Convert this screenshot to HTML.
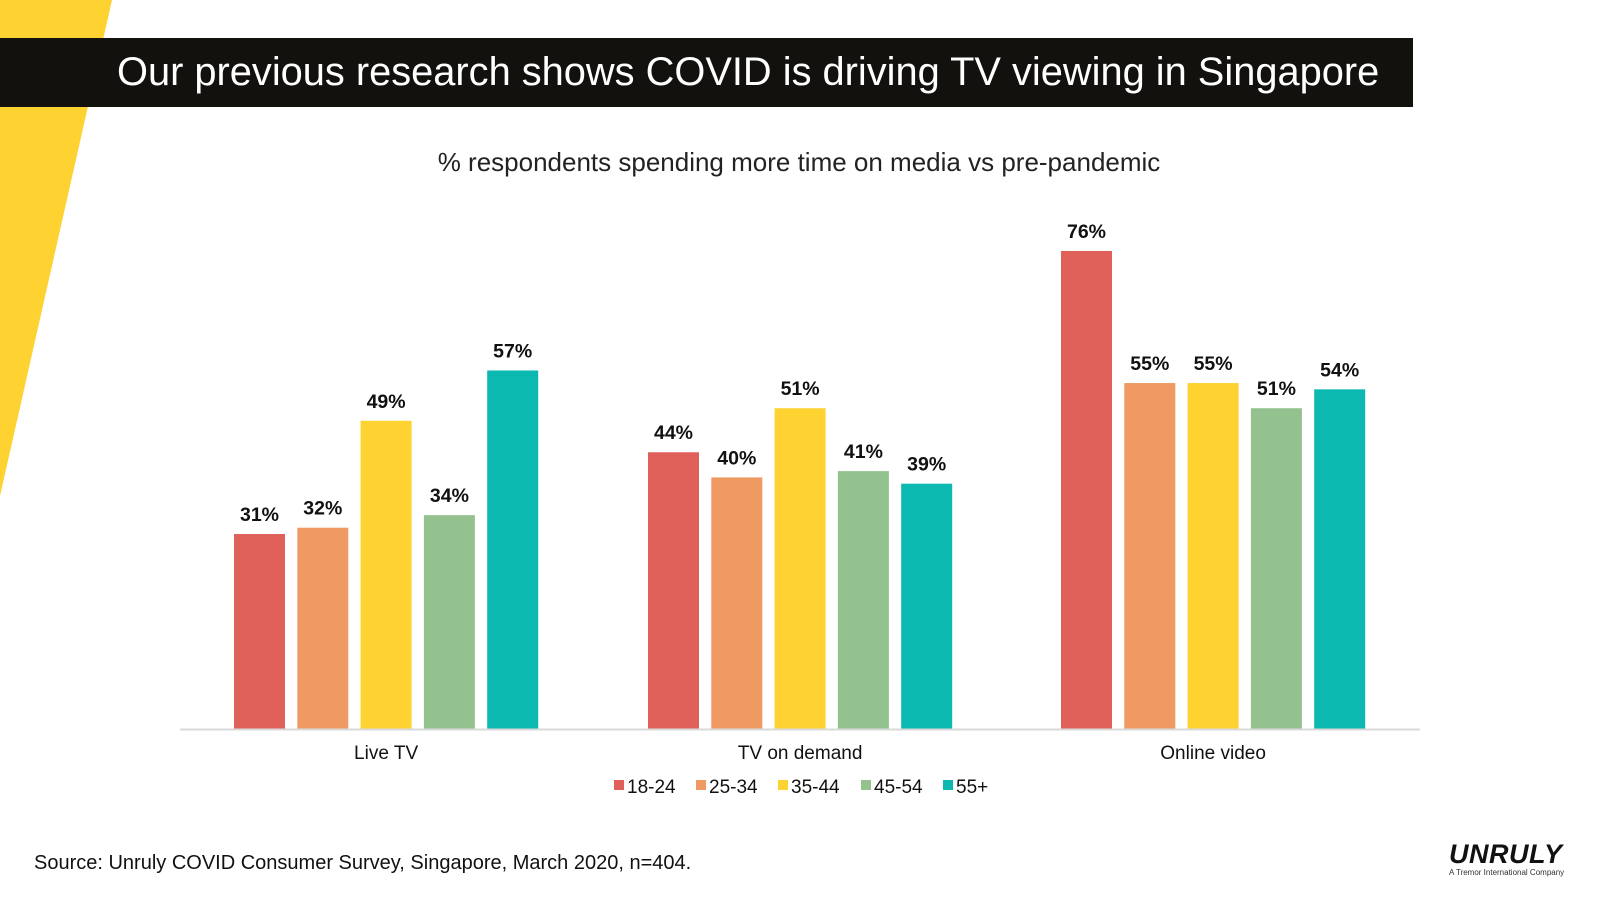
<!DOCTYPE html>
<html><head><meta charset="utf-8"><style>
body{margin:0;width:1600px;height:900px;background:#fff;overflow:hidden;font-family:"Liberation Sans",sans-serif;position:relative}
</style></head><body>
<svg width="1600" height="900" style="position:absolute;left:0;top:0">
<polygon points="0,0 112,0 0,496" fill="#FDD231"/>
<rect x="0" y="38" width="1413" height="69" fill="#12110d"/>
<text x="117" y="85" font-size="39.8" fill="#fff">Our previous research shows COVID is driving TV viewing in Singapore</text>
<text x="799" y="171" font-size="26" fill="#222" text-anchor="middle">% respondents spending more time on media vs pre-pandemic</text>
<g id="chart"></g>
<text x="34" y="869" font-size="20" fill="#111">Source: Unruly COVID Consumer Survey, Singapore, March 2020, n=404.</text>
<text x="1449" y="863" font-size="27" font-weight="bold" font-style="italic" fill="#111" letter-spacing="0.5">UNRULY</text>
<text x="1449" y="875" font-size="8" fill="#333">A Tremor International Company</text>
</svg>
<script>
const categories=["Live TV","TV on demand","Online video"];
const series=["18-24","25-34","35-44","45-54","55+"];
const v1824=[31,44,76];
const v2534=[32,40,55];
const v3544=[49,51,55];
const v4554=[34,41,51];
const v55=[57,39,54];
const values=[v1824,v2534,v3544,v4554,v55];
const colors=["#E0605A","#EE9A62","#FDD231","#93C28F","#0BB9B0"];
const NS="http://www.w3.org/2000/svg";
const g=document.getElementById("chart");
const base=729,scale=6.29,groupStart=[234,648,1061],stride=63.3,bw=51;
const y=v=>base-v*scale;
function mk(t,a){const e=document.createElementNS(NS,t);for(const k in a)e.setAttribute(k,a[k]);g.appendChild(e);return e;}
categories.forEach((c,ci)=>{
 series.forEach((s,si)=>{
  const v=values[si][ci];const x=groupStart[ci]+si*stride;
  const r=mk("rect",{x:x,y:y(v),width:bw,height:base-y(v),fill:colors[si]});
  
  
  const t=mk("text",{x:x+bw/2,y:y(v)-13,"text-anchor":"middle","font-size":19.5,"font-weight":"bold",fill:"#111"});
  t.textContent=v+"%";
  
  
 });
 const l=mk("text",{x:groupStart[ci]+2*stride+bw/2,y:759,"text-anchor":"middle","font-size":19,fill:"#111"});
 l.textContent=c;
 
 
});
const ax=mk("line",{x1:180,x2:1420,y1:base+0.5,y2:base+0.5,stroke:"#d9d9d9","stroke-width":2});


const lx=[614,696,778,861,943];
series.forEach((s,i)=>{
 const r=mk("rect",{x:lx[i],y:780,width:10,height:10,fill:colors[i]});
 
 
 const t=mk("text",{x:lx[i]+13,y:793,"font-size":19,fill:"#111"});
 t.textContent=s;
 
 
});
</script>
</body></html>
